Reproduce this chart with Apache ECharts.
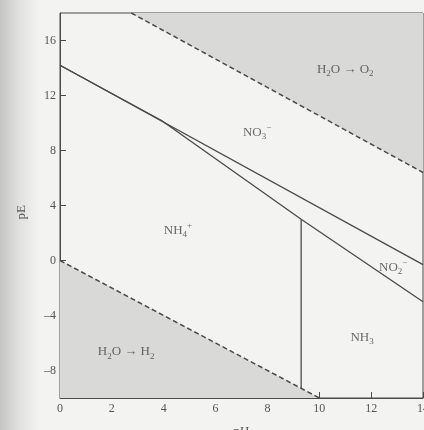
<!DOCTYPE html>
<html>
<head>
<meta charset="utf-8">
<script src="https://cdn.jsdelivr.net/npm/echarts@6/dist/echarts.min.js"></script>
<style>
html,body{margin:0;padding:0;background:#f3f3f1;}
#chart{width:424px;height:430px;}
</style>
</head>
<body>
<div id="chart"></div>
<script>
// ---- data ----
const phTicks = [0, 2, 4, 6, 8, 10, 12, 14];
const peTicks = [-8, -4, 0, 4, 8, 12, 16];
const waterOxidation = [[2.75, 18], [14, 6.4]];      // H2O -> O2 limit (dashed)
const waterReduction = [[0, 0], [10, -10]];          // H2O -> H2 limit (dashed)
const no3no2Line = [[0, 14.2], [14, -0.3]];          // NO3- / NO2- boundary
const nLowerLine = [[0, 14.2], [3.9, 10.2], [9.3, 3.0], [14, -3.0]]; // NO3-/NO2- to NH4+/NH3
const nh4nh3Line = [[9.3, -9.3], [9.3, 3.0]];        // NH4+ / NH3 boundary
const regionNames = ['H2O_O2', 'NO3', 'NH4', 'H2O_H2', 'NO2', 'NH3'];
const regionPH = [11.0, 7.6, 4.55, 2.55, 12.85, 11.65];
const regionPE = [13.9, 9.3, 2.2, -6.65, -0.5, -5.6];
const regionText = [
  '{m|H}{s|2}{m|O → O}{s|2}',
  '{m|NO}{s|3}{p|−}',
  '{m|NH}{s|4}{p|+}',
  '{m|H}{s|2}{m|O → H}{s|2}',
  '{m|NO}{s|2}{p|−}',
  '{m|NH}{s|3}'
];

const ink = '#4a4a4a';
const shade = '#d9d9d7';
const serif = '"Liberation Serif", "DejaVu Serif", serif';

const chart = echarts.init(document.getElementById('chart'));
chart.setOption({
  backgroundColor: '#f3f3f1',
  animation: false,
  graphic: [
    {
      type: 'rect', z: -10, silent: true,
      shape: {x: 0, y: 0, width: 40, height: 430},
      style: {fill: new echarts.graphic.LinearGradient(0, 0, 1, 0, [
        {offset: 0, color: '#c4c4c2'}, {offset: 0.5, color: '#e2e2e0'}, {offset: 1, color: '#f3f3f1'}
      ])}
    },
    {
      type: 'text', left: 15, top: 205, rotation: Math.PI / 2,
      style: {text: 'pE', font: '13px ' + serif, fill: '#555'}
    }
  ],
  grid: {
    left: 60, right: 1, top: 13, bottom: 32,
    outerBoundsMode: 'none', containLabel: false,
    show: true, borderColor: ink, borderWidth: 1, backgroundColor: 'transparent'
  },
  xAxis: {
    type: 'value', min: 0, max: 14, interval: 2,
    name: 'pH', nameLocation: 'middle', nameGap: 27,
    nameTextStyle: {fontFamily: serif, fontSize: 13, color: '#555'},
    axisLine: {show: true, onZero: false, lineStyle: {color: ink, width: 1}},
    axisTick: {show: true, inside: true, length: 6, lineStyle: {color: ink}},
    axisLabel: {margin: 5, fontFamily: serif, fontSize: 12, color: '#555',
      formatter: v => String(v)},
    splitLine: {show: false}
  },
  yAxis: {
    type: 'value', min: -10, max: 18,
    axisLine: {show: true, onZero: false, lineStyle: {color: ink, width: 1}},
    axisTick: {show: true, inside: true, length: 6, lineStyle: {color: ink}, customValues: peTicks},
    axisLabel: {margin: 4, fontFamily: serif, fontSize: 12, color: '#555', customValues: peTicks,
      formatter: v => v < 0 ? '–' + (-v) : String(v)},
    splitLine: {show: false}
  },
  series: [
    {
      type: 'line', data: waterOxidation, symbol: 'none', z: 1,
      lineStyle: {color: ink, width: 1.5, type: [5, 3]},
      areaStyle: {origin: 'end', color: shade, opacity: 1}
    },
    {
      type: 'line', data: waterReduction, symbol: 'none', z: 1,
      lineStyle: {color: ink, width: 1.5, type: [5, 3]},
      areaStyle: {origin: 'start', color: shade, opacity: 1}
    },
    {
      type: 'line', data: no3no2Line, symbol: 'none',
      lineStyle: {color: ink, width: 1.3}
    },
    {
      type: 'line', data: nLowerLine, symbol: 'none',
      lineStyle: {color: ink, width: 1.3}
    },
    {
      type: 'line', data: nh4nh3Line, symbol: 'none',
      lineStyle: {color: ink, width: 1.3}
    },
    {
      type: 'scatter', symbolSize: 0, silent: true,
      data: regionNames.map((n, i) => ({
        name: n, value: [regionPH[i], regionPE[i]],
        label: {formatter: regionText[i]}
      })),
      label: {
        show: true, position: 'inside', color: '#444',
        rich: {
          m: {fontFamily: serif, fontSize: 13, color: '#444', lineHeight: 18, verticalAlign: 'middle'},
          s: {fontFamily: serif, fontSize: 9, color: '#444', lineHeight: 18, verticalAlign: 'bottom'},
          p: {fontFamily: serif, fontSize: 9, color: '#444', lineHeight: 18, verticalAlign: 'top'}
        }
      }
    }
  ]
});
</script>
</body>
</html>
